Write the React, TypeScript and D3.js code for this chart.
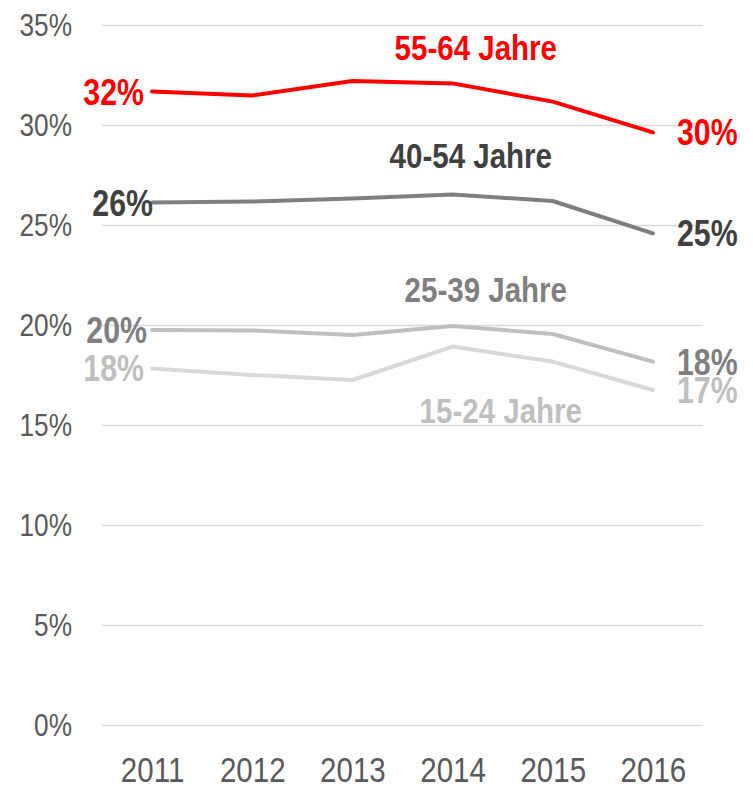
import * as d3 from "d3";
import { useEffect, useRef } from "react";

const years = ["2011", "2012", "2013", "2014", "2015", "2016"];
const yTicks = [0, 5, 10, 15, 20, 25, 30, 35];

const seriesNames = ["55-64 Jahre", "40-54 Jahre", "25-39 Jahre", "15-24 Jahre"];
const values5564 = [31.67, 31.47, 32.2, 32.08, 31.17, 29.63];
const values4054 = [26.12, 26.17, 26.32, 26.53, 26.2, 24.58];
const values2539 = [19.75, 19.73, 19.5, 19.95, 19.55, 18.17];
const values1524 = [17.83, 17.5, 17.25, 18.92, 18.17, 16.75];
const startLabels = ["32%", "26%", "20%", "18%"];
const endLabels = ["30%", "25%", "18%", "17%"];

// look of each series, in the same order as seriesNames
const lineColors = ["#ff0000", "#7f7f7f", "#bfbfbf", "#d9d9d9"];
const textColors = ["#ff0000", "#404040", "#7f7f7f", "#bfbfbf"];
// label offsets (px) from the point they belong to
const startDx = [-8, 1, -5, -8];
const nameDx = [-58, -63, -48, -33];
const nameDy = [-23, -26, -24, 76];

const width = 753;
const height = 787;
const marginTop = 25;
const marginRight = 50;
const marginBottom = 62;
const marginLeft = 102;
// no Arial Narrow here, so squeeze Liberation Sans horizontally
const font = "'Liberation Sans', Arial, sans-serif";
const narrow = 0.82;

type Sel = d3.Selection<SVGSVGElement | null, unknown, null, undefined>;

const addLabel = (svg: Sel, x: number, y: number, text: string, anchor: string,
    color: string, size: number, dy = "0") => svg.append("text")
        .attr("transform", `translate(${x},${y}) scale(${narrow},1)`)
        .attr("dy", dy)
        .attr("text-anchor", anchor)
        .attr("font-family", font)
        .attr("font-weight", "bold")
        .attr("font-size", size)
        .attr("fill", color)
        .text(text);

const LineChart = () => {
    const ref = useRef<SVGSVGElement>(null);

    useEffect(() => {
        const svg = d3.select(ref.current);
        svg.selectAll("*").remove();

        const x = d3.scalePoint()
            .domain(years)
            .range([marginLeft, width - marginRight])
            .padding(0.5);

        const y = d3.scaleLinear()
            .domain([0, 35])
            .range([height - marginBottom, marginTop]);

        // grid + y labels
        svg.append("g")
            .attr("transform", `translate(${marginLeft},0)`)
            .call(d3.axisLeft(y)
                .tickValues(yTicks)
                .tickFormat(d => `${d}%`)
                .tickSize(-(width - marginLeft - marginRight))
                .tickPadding(30))
            .call(g => g.select(".domain").remove())
            .call(g => g.selectAll(".tick line").attr("stroke", "#d9d9d9").attr("stroke-width", 1.5))
            .call(g => g.selectAll(".tick text")
                .attr("fill", "#595959")
                .attr("font-family", font)
                .attr("font-size", 32)
                .attr("x", -30 / narrow)
                .attr("transform", `scale(${narrow},1)`)
                .attr("dy", "0.32em"));

        // x labels
        svg.append("g")
            .attr("transform", `translate(0,${height - marginBottom})`)
            .call(d3.axisBottom(x).tickSize(0).tickPadding(31))
            .call(g => g.select(".domain").remove())
            .call(g => g.selectAll(".tick text")
                .attr("fill", "#595959")
                .attr("font-family", font)
                .attr("transform", `scale(${narrow},1)`)
                .attr("font-size", 36));

        const allSeries = [values5564, values4054, values2539, values1524];
        const line = d3.line<number>()
            .x((_, i) => x(years[i]) as number)
            .y(d => y(d));

        const x0 = x(years[0]) as number;
        const x1 = x(years[years.length - 1]) as number;
        const xName = x("2014") as number;

        // draw lightest first so red ends on top
        [3, 2, 1, 0].forEach(k => {
            const vals = allSeries[k];
            svg.append("path")
                .datum(vals)
                .attr("fill", "none")
                .attr("stroke", lineColors[k])
                .attr("stroke-width", 4)
                .attr("stroke-linecap", "round")
                .attr("stroke-linejoin", "round")
                .attr("d", line);

            addLabel(svg, x0 + startDx[k], y(vals[0]), startLabels[k], "end", textColors[k], 37, "0.35em");
            addLabel(svg, x1 + 24, y(vals[vals.length - 1]), endLabels[k], "start", textColors[k], 37, "0.35em");
            addLabel(svg, xName + nameDx[k], y(vals[3]) + nameDy[k], seriesNames[k], "start", textColors[k], 36);
        });
    }, []);

    return <svg ref={ref} width={width} height={height}
        style={{ position: "absolute", left: 0, top: 0, background: "#fff" }} />;
};

export default function App() {
    return <LineChart />;
}
